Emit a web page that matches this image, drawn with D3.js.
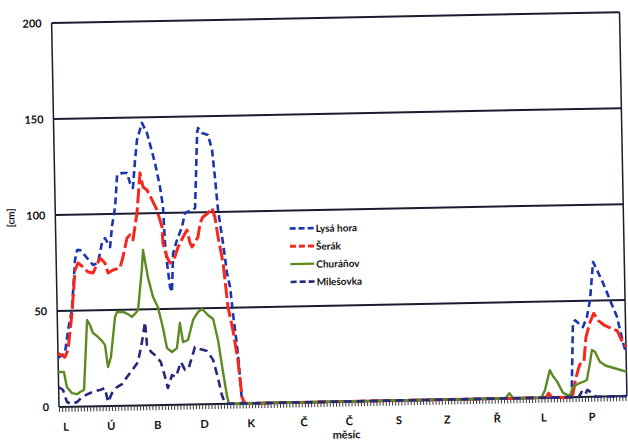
<!DOCTYPE html>
<html lang="cs">
<head>
<meta charset="UTF-8">
<title>Výška sněhu</title>
<script src="https://d3js.org/d3.v7.min.js"></script>
<style>
  body { margin: 0; background: #fff; }
  text { font-family: Lato, "Open Sans", sans-serif; font-weight: bold; fill: #111; }
</style>
</head>
<body>
<svg width="628" height="442"></svg>
<script>
// month initials and the day where each label sits
const months = ["L", "Ú", "B", "D", "K", "Č", "Č", "S", "Z", "Ř", "L", "P"];
const monthLabelDays = [4, 33, 63, 93, 123, 157, 186, 218, 249, 281, 311, 342];
const yTicks = [0, 50, 100, 150, 200];

// [day of year, snow depth cm]
const lysaHora = [
  [0, 25.5], [4.5, 28], [6.8, 40], [9.5, 50.4], [12.1, 76.4], [13.6, 81.6], [15.5, 81.5],
  [19.9, 77.3], [23.6, 73.6], [26.8, 74.6], [29.6, 85], [31.6, 87.5], [34.8, 82.8],
  [36.2, 93.2], [38.5, 103.6], [40.2, 120.2], [43.4, 121.2], [46.6, 121.2], [48.4, 115.9],
  [50.2, 113.3], [51.9, 127.9], [53.4, 138.3], [56.8, 147.1], [59.9, 141.8], [64.7, 126.1],
  [67.6, 113.6], [69.3, 103.2], [70.1, 84.3], [71.2, 73.9], [72.8, 61.4], [74, 58.7],
  [75.2, 79], [77.9, 85.8], [81.2, 92.5], [83.4, 99.8], [88, 101.3], [89.9, 102.3],
  [92.1, 141.3], [92.8, 143.9], [95.3, 141.2], [99.1, 140.2], [101.5, 132.3], [103, 118.2],
  [104.6, 101], [107.4, 83.7], [109.6, 68.1], [111.4, 60.7], [112.9, 47.2], [115.6, 26.3],
  [117.6, 1.8], [119, 0], [329.5, 0], [331.2, 38.5], [332.6, 40], [337.6, 36.4],
  [340.3, 41.6], [342.5, 50.4], [344.9, 70.2], [347.3, 66], [351, 59.2], [355.3, 50.3],
  [359.6, 41.4], [363.2, 27.8], [365, 22.6]
];
const serak = [
  [0, 28], [4.4, 25.9], [6.5, 29.6], [9.5, 48.8], [12, 71.2], [14, 74.8], [17.1, 72.7],
  [20.3, 70], [23.5, 69.4], [28.2, 77.2], [31.3, 74.5], [33.2, 69.3], [36.4, 70.8],
  [40.9, 71.8], [43, 77.6], [45.8, 87.3], [47.7, 88.9], [49.6, 86.3], [52.5, 100.2],
  [54.9, 121], [56.7, 113.7], [59.2, 112.1], [62.4, 106.8], [65.4, 101.6], [68.4, 92.7],
  [68.8, 84.4], [71.2, 77], [73.1, 73.9], [76.3, 77], [78.5, 82.1], [81.8, 87.3],
  [84.4, 90.9], [86.2, 84.1], [87.5, 82], [91.4, 87.1], [92.9, 94.4], [94.8, 97.5],
  [98.1, 99.5], [100.7, 102.1], [102.5, 97.4], [104.3, 86.9], [107.2, 73.3], [109.8, 50.4],
  [112.7, 38.3], [115.5, 22.7], [117.7, 3.3], [119.5, 0], [313, 0], [314.7, 2.3], [317, 0],
  [330, 0], [332.4, 9.9], [335.1, 17], [337.8, 18], [339.4, 31], [342.2, 38.8],
  [344.7, 43.4], [347.4, 39.7], [351.6, 37], [356.2, 35.3], [359.5, 34.2], [362.4, 28.9],
  [365, 25.8]
];
const churanov = [
  [0, 18.2], [3.6, 18.2], [5.3, 10.3], [8.5, 7.1], [11.8, 6.5], [13.7, 7.6], [16.3, 8.6],
  [19.1, 45], [20.9, 42.4], [22.7, 38.2], [25.3, 36.6], [28.4, 34], [30.3, 31.9], [32, 20.3],
  [34, 25.5], [37.1, 46.3], [38.5, 48.9], [42.3, 48.9], [45.4, 47.7], [48, 46.2],
  [49.9, 47.7], [52, 49.7], [55, 71.5], [55.9, 80.9], [58.8, 66.3], [61.8, 56.3],
  [64.8, 51], [67.8, 40.1], [70.1, 29.6], [73.3, 27.5], [76.5, 29.5], [78.7, 42.5],
  [80.5, 32.6], [83.7, 33.6], [87.2, 44], [90.5, 48.1], [93.1, 49.6], [96.8, 46.4],
  [100.1, 44.3], [103, 33.3], [105.8, 16.6], [108.1, 4], [109.2, 0], [287, 0],
  [289.5, 2.7], [292, 0], [310, 0], [312.4, 3.9], [315.8, 14.3], [317.8, 11.1],
  [320.2, 8.5], [324, 2.3], [328.4, 0.6], [330.4, 5.3], [333.7, 6.8], [336.9, 7.8],
  [339.5, 8.8], [341.7, 17.7], [343.1, 24.4], [345, 23.4], [348.1, 18.1], [351.9, 16],
  [356.4, 14.9], [360.8, 13.8], [365, 12.7]
];
const milesovka = [
  [0, 10.4], [2.8, 8.8], [5.2, 2.5], [8.3, 1.4], [11.7, 2.4], [14.9, 5], [18.8, 6.5],
  [23.3, 8], [26.5, 8.4], [29.7, 9.4], [31.6, 2.1], [34.2, 6.7], [37.5, 9.8], [40.8, 11.3],
  [44.1, 14.9], [48, 19], [51.3, 22.6], [54.1, 33], [56.3, 43.4], [57.3, 31.4],
  [59.8, 27.8], [62.9, 25.6], [66, 22.4], [68.5, 14.6], [70.2, 8.8], [73, 15.5],
  [75.5, 14.5], [78.9, 22.2], [81.4, 18], [84, 19.5], [88.1, 29.9], [91.3, 28.8],
  [95.8, 27.7], [99.6, 23], [102.5, 13.5], [104.8, 4.6], [106.7, 0.4], [108, 0],
  [334, 0], [336, 2.6], [338, 1], [339.7, 3.6], [342.5, 2], [345, 0], [365, 0]
];

const series = [
  { name: "Lysá hora", data: lysaHora, color: "#1b34b0", width: 2.6, dash: "7,4" },
  { name: "Šerák", data: serak, color: "#f5281e", width: 3, dash: "15,4" },
  { name: "Churáňov", data: churanov, color: "#5e8a24", width: 2.4, dash: null },
  { name: "Milešovka", data: milesovka, color: "#262878", width: 2.6, dash: "8,5" }
];

const plotLeft = 59, plotRight = 627, plotTop = 23, plotBottom = 407;

const svg = d3.select("svg");
// the scanned page is slightly tilted
const g = svg.append("g").attr("transform", `rotate(-1.1, ${plotLeft}, ${plotBottom})`);

const x = d3.scaleLinear().domain([0, 365]).range([plotLeft, plotRight]);
const y = d3.scaleLinear().domain([0, 200]).range([plotBottom, plotTop]);

// horizontal grid lines
g.append("g")
  .selectAll("line")
  .data(yTicks)
  .join("line")
  .attr("x1", plotLeft).attr("x2", plotRight)
  .attr("y1", d => y(d)).attr("y2", d => y(d))
  .attr("stroke", "#1c1c30")
  .attr("stroke-width", 2);

// left axis and right border
g.append("line").attr("x1", plotLeft).attr("x2", plotLeft).attr("y1", plotTop).attr("y2", plotBottom)
  .attr("stroke", "#1c1c30").attr("stroke-width", 1.5);
g.append("line").attr("x1", plotRight).attr("x2", plotRight).attr("y1", plotTop).attr("y2", plotBottom)
  .attr("stroke", "#1c1c30").attr("stroke-width", 1.5);

// y tick labels
const yAxis = g.append("g")
  .attr("transform", `translate(${plotLeft},0)`)
  .call(d3.axisLeft(y).tickValues(yTicks).tickSize(0).tickPadding(10));
yAxis.select(".domain").remove();
yAxis.selectAll("text").style("font-size", "11px");

// dense day ticks under the baseline
const dayTicks = g.append("g")
  .attr("transform", `translate(0,${plotBottom})`)
  .call(d3.axisBottom(x).tickValues(d3.range(0, 366, 2)).tickSize(5).tickFormat(""));
dayTicks.select(".domain").remove();
dayTicks.selectAll("line").attr("stroke", "#3a3a3a").attr("stroke-width", 1);

// month letters
const monthAxis = g.append("g")
  .attr("transform", `translate(0,${plotBottom})`)
  .call(d3.axisBottom(x).tickValues(monthLabelDays).tickSize(0).tickPadding(16)
    .tickFormat((d, i) => months[i]));
monthAxis.select(".domain").remove();
monthAxis.selectAll("text").style("font-size", "11px");

// axis titles
g.append("text")
  .attr("x", (plotLeft + plotRight) / 2 + 3).attr("y", 444)
  .attr("text-anchor", "middle")
  .style("font-size", "11px")
  .text("měsíc");
g.append("text")
  .attr("transform", `translate(18,${(plotTop + plotBottom) / 2 + 2}) rotate(-90)`)
  .attr("text-anchor", "middle")
  .style("font-size", "10px")
  .text("[cm]");

// series lines
const line = d3.line().x(d => x(d[0])).y(d => y(d[1]));
g.append("g")
  .selectAll("path")
  .data(series)
  .join("path")
  .attr("d", d => line(d.data))
  .attr("fill", "none")
  .attr("stroke", d => d.color)
  .attr("stroke-width", d => d.width)
  .attr("stroke-dasharray", d => d.dash)
  .attr("stroke-linejoin", "round");

// legend
const legend = g.append("g").attr("transform", "translate(293,233)");
const item = legend.selectAll("g")
  .data(series)
  .join("g")
  .attr("transform", (d, i) => `translate(0,${i * 17.8})`);
item.append("line")
  .attr("x1", 0).attr("x2", 24)
  .attr("stroke", d => d.color)
  .attr("stroke-width", d => d.width)
  .attr("stroke-dasharray", d => d.dash ? "6,3" : null);
item.append("text")
  .attr("x", 26).attr("y", 4)
  .style("font-size", "10px")
  .text(d => d.name);
</script>
</body>
</html>
